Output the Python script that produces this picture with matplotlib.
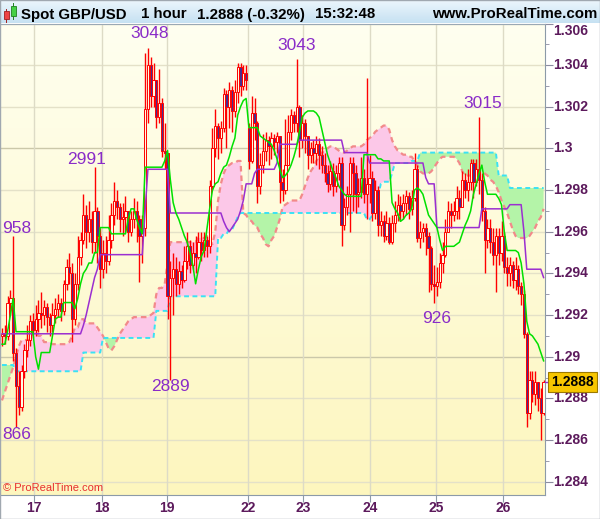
import numpy as np
import matplotlib.pyplot as plt
from matplotlib.patches import Rectangle
import matplotlib.transforms as mtransforms

# hourly GBP/USD bars (open = previous close)
close = [
    1.2911, 1.2910, 1.2926, 1.2928, 1.2902, 1.2886, 1.2876, 1.2893, 1.2903, 1.2908,
    1.2917, 1.2913, 1.2918, 1.2921, 1.2920, 1.2924, 1.2919, 1.2915, 1.2920, 1.2923,
    1.2926, 1.2922, 1.2935, 1.2943, 1.2940, 1.2918, 1.2935, 1.2948, 1.2956, 1.2968,
    1.2960, 1.2966, 1.2955, 1.2970, 1.2958, 1.2942, 1.2950, 1.2946, 1.2956, 1.2968,
    1.2975, 1.2972, 1.2966, 1.2967, 1.2970, 1.2960, 1.2966, 1.2970, 1.2966, 1.2958,
    1.2962, 1.3019, 1.3040, 1.3025, 1.3033, 1.3015, 1.3022, 1.2999, 1.2998, 1.2929,
    1.2938, 1.2942, 1.2935, 1.2941, 1.2937, 1.2946, 1.2953, 1.2944, 1.2950, 1.2948,
    1.2955, 1.2951, 1.2956, 1.2953, 1.2982, 1.3000, 1.3011, 1.3005, 1.3010, 1.3026,
    1.3020, 1.3028, 1.3018, 1.3027, 1.3039, 1.3030, 1.3036, 1.3033, 1.2994, 1.3017,
    1.3012, 1.2982, 1.2992, 1.2999, 1.3004, 1.3001, 1.3005, 1.3003, 1.3006, 1.2984,
    1.2980, 1.2992, 1.3008, 1.3016, 1.3012, 1.3020, 1.3004, 1.3012, 1.3006, 1.2997,
    1.3000, 1.2998, 1.3002, 1.2997, 1.2992, 1.2988, 1.2983, 1.2989, 1.2982, 1.2988,
    1.2993, 1.2963, 1.2972, 1.2978, 1.2993, 1.2988, 1.2978, 1.2979, 1.2986, 1.2978,
    1.2983, 1.2986, 1.2969, 1.2980, 1.2963, 1.2965, 1.2958, 1.2964, 1.2955, 1.2964,
    1.2968, 1.2973, 1.2970, 1.2974, 1.2977, 1.2971, 1.2976, 1.2990, 1.2957, 1.2960,
    1.2962, 1.2958, 1.2952, 1.2935, 1.2934, 1.2936, 1.2945, 1.2949, 1.2960, 1.2970,
    1.2968, 1.2970, 1.2976, 1.2972, 1.2985, 1.2980, 1.2984, 1.2993, 1.2984, 1.2990,
    1.2985, 1.2970, 1.2956, 1.2962, 1.2955, 1.2949, 1.2958, 1.2950, 1.2958, 1.2943,
    1.2940, 1.2944, 1.2937, 1.2942, 1.2934, 1.2930, 1.2911, 1.2873, 1.2889, 1.2882,
    1.2888, 1.2880, 1.2873, 1.2888,
]
high = [
    1.2914, 1.2915, 1.2929, 1.2932, 1.2958, 1.2904, 1.2893, 1.2896, 1.2906, 1.2915,
    1.2920, 1.2921, 1.2925, 1.2927, 1.2931, 1.2927, 1.2926, 1.2921, 1.2926, 1.2928,
    1.2930, 1.2928, 1.2937, 1.2947, 1.2950, 1.2945, 1.2940, 1.2958, 1.2960, 1.2978,
    1.2973, 1.2975, 1.2970, 1.2991, 1.2972, 1.2962, 1.2956, 1.2958, 1.2968, 1.2974,
    1.2984, 1.2980, 1.2974, 1.2974, 1.2977, 1.2968, 1.2970, 1.2976, 1.2975, 1.2968,
    1.2968, 1.3046, 1.3048, 1.3044, 1.3041, 1.3033, 1.3038, 1.3024, 1.3012, 1.2998,
    1.2946, 1.2950, 1.2948, 1.2946, 1.2944, 1.2953, 1.2960, 1.2956, 1.2955, 1.2958,
    1.2960, 1.2960, 1.2960, 1.2958, 1.2985, 1.3010, 1.3019, 1.3012, 1.3013, 1.3029,
    1.3028, 1.3032, 1.3030, 1.3033, 1.3041, 1.3041, 1.3040, 1.3040, 1.3012, 1.3025,
    1.3024, 1.3013, 1.2998, 1.3007, 1.3008, 1.3006, 1.3008, 1.3007, 1.3008, 1.3004,
    1.2990, 1.3014, 1.3016, 1.3019, 1.3018, 1.3043, 1.3021, 1.3016, 1.3014, 1.3005,
    1.3003, 1.3004, 1.3006, 1.3005, 1.3001, 1.2998, 1.2992, 1.2994, 1.2993, 1.2992,
    1.2996, 1.2996, 1.2976, 1.2982, 1.2996, 1.2996, 1.2992, 1.2986, 1.2996, 1.2990,
    1.3034, 1.2997, 1.2989, 1.2985, 1.2982, 1.2970, 1.2968, 1.2970, 1.2967, 1.2968,
    1.2975, 1.2978, 1.2977, 1.2978, 1.2980, 1.2979, 1.2980, 1.2998, 1.2992, 1.2965,
    1.2964, 1.2964, 1.2960, 1.2953, 1.2944, 1.2943, 1.2950, 1.2955, 1.2966, 1.2975,
    1.2974, 1.2975, 1.2982, 1.2980, 1.2989, 1.2988, 1.2990, 1.2995, 1.2995, 1.2995,
    1.3015, 1.2988, 1.2972, 1.2966, 1.2966, 1.2962, 1.2962, 1.2962, 1.2965, 1.2960,
    1.2948, 1.2948, 1.2946, 1.2948, 1.2944, 1.2936, 1.2932, 1.2912, 1.2893, 1.2893,
    1.2893, 1.2886, 1.2885, 1.2889,
]
low = [
    1.2905, 1.2906, 1.2908, 1.2920, 1.2898, 1.2866, 1.2872, 1.2874, 1.2890, 1.2900,
    1.2905, 1.2909, 1.2910, 1.2912, 1.2914, 1.2915, 1.2912, 1.2910, 1.2912, 1.2916,
    1.2919, 1.2917, 1.2920, 1.2932, 1.2935, 1.2907, 1.2915, 1.2932, 1.2944, 1.2954,
    1.2952, 1.2955, 1.2950, 1.2950, 1.2945, 1.2933, 1.2938, 1.2940, 1.2944, 1.2952,
    1.2963, 1.2966, 1.2960, 1.2958, 1.2960, 1.2955, 1.2958, 1.2962, 1.2955, 1.2936,
    1.2945, 1.2958, 1.3012, 1.3020, 1.3020, 1.3010, 1.3012, 1.2996, 1.2990, 1.2918,
    1.2889, 1.2920, 1.2929, 1.2930, 1.2933, 1.2936, 1.2942, 1.2940, 1.2942, 1.2940,
    1.2947, 1.2946, 1.2948, 1.2948, 1.2950, 1.2980, 1.2996, 1.2995, 1.2998, 1.3008,
    1.3000, 1.3010, 1.3008, 1.3015, 1.3022, 1.3025, 1.3028, 1.3028, 1.2990, 1.2993,
    1.3004, 1.2974, 1.2978, 1.2988, 1.2994, 1.2992, 1.2995, 1.2997, 1.2998, 1.2974,
    1.2975, 1.2978, 1.2996, 1.3004, 1.3008, 1.3008, 1.2996, 1.3000, 1.2998, 1.2990,
    1.2993, 1.2993, 1.2992, 1.2990, 1.2988, 1.2984, 1.2979, 1.2980, 1.2977, 1.2979,
    1.2985, 1.2953, 1.2961, 1.2968, 1.2960, 1.2970, 1.2969, 1.2972, 1.2976, 1.2974,
    1.2966, 1.2974, 1.2965, 1.2966, 1.2958, 1.2958, 1.2955, 1.2956, 1.2954, 1.2954,
    1.2960, 1.2965, 1.2965, 1.2966, 1.2968, 1.2966, 1.2968, 1.2975, 1.2955, 1.2952,
    1.2955, 1.2949, 1.2931, 1.2932, 1.2926, 1.2929, 1.2933, 1.2940, 1.2948, 1.2960,
    1.2962, 1.2965, 1.2966, 1.2966, 1.2972, 1.2976, 1.2975, 1.2980, 1.2976, 1.2982,
    1.2978, 1.2965, 1.2940, 1.2952, 1.2950, 1.2944, 1.2931, 1.2944, 1.2946, 1.2940,
    1.2934, 1.2934, 1.2933, 1.2932, 1.2930, 1.2925, 1.2909, 1.2866, 1.2870, 1.2878,
    1.2877, 1.2874, 1.2860, 1.2872,
]
first_open = 1.2910
gap_opens = {88: 1.3010}  # monday open after the weekend

# ichimoku lines as drawn on the chart
tenkan = [
    1.2906, 1.2906, 1.2912, 1.2920, 1.2928, 1.2912, 1.2912, 1.2912, 1.2912, 1.2912,
    1.2912, 1.2912, 1.2900, 1.2894, 1.2902, 1.2902, 1.2902, 1.2902, 1.2910, 1.2918,
    1.2919, 1.2919, 1.2926, 1.2926, 1.2926, 1.2926, 1.2923, 1.2928, 1.2935, 1.2940,
    1.2942, 1.2945, 1.2945, 1.2950, 1.2950, 1.2962, 1.2962, 1.2962, 1.2962, 1.2959,
    1.2959, 1.2959, 1.2959, 1.2959, 1.2959, 1.2966, 1.2971, 1.2971, 1.2966, 1.2962,
    1.2959, 1.2991, 1.2991, 1.2991, 1.2991, 1.2991, 1.2991, 1.2991, 1.2994, 1.2999,
    1.2985, 1.2974, 1.2969, 1.2966, 1.2962, 1.2958, 1.2955, 1.2950, 1.2944, 1.2935,
    1.2942, 1.2948, 1.2951, 1.2961, 1.2971, 1.2980, 1.2983, 1.2984, 1.2988, 1.2991,
    1.2992, 1.2996, 1.3001, 1.3005, 1.3016, 1.3020, 1.3023, 1.3024, 1.3010, 1.3010,
    1.3010, 1.3010, 1.3006, 1.3005, 1.3004, 1.3003, 1.3002, 1.2999, 1.2995, 1.2990,
    1.2986, 1.2987, 1.2989, 1.2992, 1.2996, 1.3001, 1.3008, 1.3015, 1.3017, 1.3018,
    1.3018, 1.3018, 1.3017, 1.3015, 1.3009, 1.3003, 1.2997, 1.2993, 1.2989, 1.2986,
    1.2982, 1.2980, 1.2978, 1.2977, 1.2977, 1.2977, 1.2977, 1.2977, 1.2977, 1.2997,
    1.2997, 1.2997, 1.2997, 1.2997, 1.2995, 1.2995, 1.2994, 1.2994, 1.2994, 1.2974,
    1.2971, 1.2969, 1.2965, 1.2966, 1.2968, 1.2969, 1.2971, 1.2980, 1.2981, 1.2980,
    1.2978, 1.2973, 1.2968, 1.2966, 1.2964, 1.2962, 1.2956, 1.2951, 1.2953, 1.2953,
    1.2953, 1.2953, 1.2954, 1.2955, 1.2959, 1.2963, 1.2966, 1.2970, 1.2978, 1.2983,
    1.2988, 1.2992, 1.2984, 1.2978, 1.2978, 1.2978, 1.2978, 1.2976, 1.2973, 1.2960,
    1.2951, 1.2951, 1.2951, 1.2951, 1.2950, 1.2945, 1.2935, 1.2917, 1.2911, 1.2910,
    1.2908, 1.2906, 1.2902, 1.2898,
]
span_a = [
    1.2879, 1.2883, 1.2887, 1.2891, 1.2895, 1.2900, 1.2905, 1.2908, 1.2908, 1.2908,
    1.2908, 1.2912, 1.2912, 1.2910, 1.2910, 1.2907, 1.2907, 1.2907, 1.2906, 1.2906,
    1.2906, 1.2906, 1.2906, 1.2906, 1.2907, 1.2910, 1.2914, 1.2914, 1.2918, 1.2918,
    1.2916, 1.2916, 1.2916, 1.2916, 1.2914, 1.2912, 1.2910, 1.2907, 1.2904, 1.2903,
    1.2905, 1.2908, 1.2911, 1.2913, 1.2915, 1.2917, 1.2918, 1.2919, 1.2919, 1.2919,
    1.2919, 1.2919, 1.2919, 1.2920, 1.2921, 1.2930, 1.2933, 1.2933, 1.2935, 1.2945,
    1.2955, 1.2955, 1.2955, 1.2955, 1.2955, 1.2955, 1.2955, 1.2955, 1.2955, 1.2955,
    1.2957, 1.2957, 1.2957, 1.2958, 1.2956, 1.2954, 1.2960, 1.2975, 1.2983, 1.2988,
    1.2991, 1.2992, 1.2993, 1.2993, 1.2994, 1.2994, 1.2969, 1.2968, 1.2966, 1.2965,
    1.2963, 1.2962, 1.2959, 1.2957, 1.2954, 1.2953, 1.2956, 1.2958, 1.2962, 1.2966,
    1.2972, 1.2973, 1.2974, 1.2975, 1.2975, 1.2975, 1.2975, 1.2978, 1.2982, 1.2986,
    1.2989, 1.2991, 1.2994, 1.2996, 1.2998, 1.2999, 1.3000, 1.3001, 1.3001, 1.3000,
    1.2999, 1.2998, 1.2998, 1.2999, 1.3000, 1.3001, 1.3001, 1.3001, 1.3001, 1.3002,
    1.3004, 1.3005, 1.3006, 1.3008, 1.3009, 1.3010, 1.3011, 1.3011, 1.3009, 1.3004,
    1.3001, 1.2999, 1.2998, 1.2997, 1.2997, 1.2996, 1.2996, 1.2994, 1.2992, 1.2989,
    1.2988, 1.2988, 1.2988, 1.2989, 1.2991, 1.2993, 1.2995, 1.2996, 1.2996, 1.2996,
    1.2996, 1.2996, 1.2995, 1.2993, 1.2989, 1.2987, 1.2987, 1.2987, 1.2987, 1.2987,
    1.2988, 1.2989, 1.2988, 1.2987, 1.2985, 1.2984, 1.2982, 1.2979, 1.2975, 1.2972,
    1.2969, 1.2965, 1.2961, 1.2958, 1.2957, 1.2957, 1.2957, 1.2957, 1.2958, 1.2960,
    1.2962, 1.2965, 1.2967, 1.2971,
]
# (value, number of bars)
kijun_runs = [
    (1.2911, 29), (1.2915, 1), (1.2920, 1), (1.2926, 1), (1.2932, 1), (1.2938, 1),
    (1.2942, 1), (1.2949, 16), (1.2970, 1), (1.2990, 8), (1.2969, 19), (1.2965, 1),
    (1.2962, 1), (1.2960, 1), (1.2962, 1), (1.2964, 1), (1.2966, 1), (1.2970, 1),
    (1.2975, 1), (1.2983, 3), (1.2988, 1), (1.2990, 7), (1.2993, 1), (1.3002, 7),
    (1.3004, 16), (1.2998, 9), (1.2993, 20), (1.2986, 1), (1.2983, 3), (1.2962, 16),
    (1.2971, 10), (1.2973, 5), (1.2960, 1), (1.2942, 6), (1.2938, 1),
]
span_b_runs = [
    (1.2896, 5), (1.2893, 24), (1.2902, 7), (1.2909, 19), (1.2922, 5), (1.2929, 17),
    (1.2957, 2), (1.2959, 2), (1.2961, 2), (1.2964, 1), (1.2967, 1), (1.2969, 45),
    (1.2966, 2), (1.2968, 1), (1.2972, 1), (1.2977, 1), (1.2983, 1), (1.2984, 3),
    (1.2988, 1), (1.2993, 6), (1.2994, 3), (1.2998, 28), (1.2987, 4), (1.2981, 13),
]

day_ticks = [11.42, 35.54, 58.92, 87.79, 107.39, 131.16, 154.68, 178.67]
day_labels = ['17', '18', '19', '22', '23', '24', '25', '26']
price_ticks = np.round(np.arange(1.284, 1.3061, 0.002), 3)
minor_ticks = np.round(np.arange(1.285, 1.3061, 0.002), 3)

# swing high/low labels: bar, text, high?, dx, dy (pixels)
markers = [
    (52, '3048', True, 2, 15), (33, '2991', True, -8, 8), (4, '958', True, 3, 7),
    (105, '3043', True, 0, 13), (170, '3015', True, 4, 14),
    (5, '866', False, 1, 7), (60, '2889', False, 0, 7), (154, '926', False, 2, 16),
]
last_price = 1.2888


def expand(runs):
    out = []
    for v, k in runs:
        out.extend([v] * k)
    return np.array(out)


kijun = expand(kijun_runs)
span_b = expand(span_b_runs)
tenkan = np.array(tenkan)
span_a = np.array(span_a)
n = len(close)
assert len(high) == n and len(low) == n and len(tenkan) == n and len(span_a) == n, \
    (n, len(high), len(low), len(tenkan), len(span_a))
assert len(kijun) == n and len(span_b) == n, (len(kijun), len(span_b))

x = np.arange(n)
c = np.array(close)
o = np.r_[first_open, c[:-1]]
for k, v in gap_opens.items():
    o[k] = v
h = np.maximum(np.array(high), np.maximum(o, c))
l = np.minimum(np.array(low), np.minimum(o, c))

W, H = 600, 519
top, bot, right = 23.5, 495, 545
xlo, xhi = -0.7, 193.5
ylo, yhi = 1.283358, 1.305990

fig = plt.figure(figsize=(W / 100, H / 100), dpi=100, facecolor='white')
ax = fig.add_axes([0, 1 - bot / H, right / W, (bot - top) / H])

# cream -> yellow background
g = np.linspace(0, 1, 256)[:, None, None]
c_top = np.array([255, 255, 240]) / 255
c_bot = np.array([253, 246, 190]) / 255
ax.imshow(c_top + (c_bot - c_top) * g, extent=[xlo, xhi, ylo, yhi],
          aspect='auto', origin='upper', zorder=0)

for p in price_ticks:
    strong = abs(p * 100 - round(p * 100)) < 1e-6
    ax.axhline(p, color='#cbc8aa' if strong else '#e4e1c8', lw=1, zorder=0.5)
for t in day_ticks:
    ax.axvline(t, color='#dddbc6', lw=1, zorder=0.5)

# cloud
ax.fill_between(x, span_a, span_b, where=span_a >= span_b, interpolate=True,
                facecolor='#fcc8e8', lw=0, zorder=1)
ax.fill_between(x, span_a, span_b, where=span_a < span_b, interpolate=True,
                facecolor='#b4f4a8', lw=0, zorder=1)
ax.plot(x, span_a, color='#f28a8a', lw=1.6, ls=(0, (2.5, 1.8)), zorder=1.5)
ax.plot(x, span_b, color='#3ae2f4', lw=1.4, ls=(0, (2.5, 1.8)), zorder=1.5)

# candles
ax.vlines(x, l, h, colors='#ff0000', linewidth=1.0, zorder=3)
up = c >= o
ax.bar(x[up], (c - o)[up], bottom=o[up], width=0.8, color='#fffbe2',
       edgecolor='#ff0000', linewidth=0.7, zorder=3.5)
ax.bar(x[~up], (c - o)[~up], bottom=o[~up], width=0.8, color='#4a2c8c',
       edgecolor='#ff0000', linewidth=0.7, zorder=3.5)

ax.plot(x, kijun, color='#9b2fd0', lw=1.1, zorder=4)
ax.plot(x, tenkan, color='#00e000', lw=1.1, zorder=4)

for bar, txt, is_high, dx, dy in markers:
    yv = h[bar] if is_high else l[bar]
    ax.annotate(txt, (bar, yv), xytext=(dx, dy if is_high else -dy),
                textcoords='offset pixels', ha='center', va='center',
                color='#8a2cc8', fontsize=12.5, family='Liberation Sans', zorder=6)

ax.set_xlim(xlo, xhi)
ax.set_ylim(ylo, yhi)

ax.spines['left'].set_visible(False)
ax.spines['top'].set_color('#9aa8b4')
ax.spines['right'].set_color('#8c9aa8')
ax.spines['bottom'].set_color('#8c9aa8')
ax.yaxis.tick_right()
ax.set_yticks(price_ticks)
ax.set_yticks(minor_ticks, minor=True)
ax.tick_params(axis='y', which='major', length=6, color='#8c8ca0',
               labelright=False, labelleft=False)
ax.tick_params(axis='y', which='minor', length=3, color='#8c8ca0')
ax.set_xticks(day_ticks)
ax.tick_params(axis='x', length=5, color='#8c9aa8', labelbottom=False)

lab_kw = dict(family='Liberation Sans', weight='bold', fontsize=10, color='#5c1a5c')
tr_y = mtransforms.blended_transform_factory(ax.transAxes, ax.transData)
for p in price_ticks:
    lab = f'{p:.3f}'.rstrip('0')
    if p > yhi:
        ax.text(1.0147, yhi, lab, transform=tr_y, ha='left', va='top',
                clip_on=False, zorder=5, **lab_kw)
    else:
        ax.text(1.0147, p, lab, transform=tr_y, ha='left', va='center',
                clip_on=False, zorder=5, **lab_kw)
tr_x = mtransforms.blended_transform_factory(ax.transData, ax.transAxes)
for t, lab in zip(day_ticks, day_labels):
    ax.text(t, -0.0276, lab, transform=tr_x, ha='center', va='center',
            clip_on=False, **lab_kw)

# last price tag
ax.plot([1.0, 1.009], [last_price, last_price], transform=tr_y, color='#9b2fd0',
        lw=1, clip_on=False, zorder=9)
ax.text(1.011, last_price, f'{last_price:.4f}', transform=tr_y, ha='left', va='center',
        fontsize=10, weight='bold', family='Liberation Sans', color='black',
        bbox=dict(boxstyle='square,pad=0.22', fc='#f7c600', ec='#9c7a00', lw=0.8),
        clip_on=False, zorder=10)

# title bar
tax = fig.add_axes([0, 1 - top / H, 1, top / H])
tax.set_xlim(0, W)
tax.set_ylim(top, 0)
tax.axis('off')
gt = np.linspace(0, 1, 64)[:, None, None]
b_top = np.array([238, 247, 253]) / 255
b_bot = np.array([198, 225, 242]) / 255
tax.imshow(b_top + (b_bot - b_top) * gt, extent=[0, W, top, 0], aspect='auto', zorder=0)
tax.add_patch(Rectangle((3.5, 11), 5, 8, fc='#ee4444', ec='#a02020', lw=0.6, zorder=2))
tax.plot([6, 6], [8.5, 21.5], color='#a02020', lw=0.7, zorder=1)
tax.add_patch(Rectangle((10.5, 5.5), 5.5, 10.5, fc='#44d044', ec='#208020', lw=0.6, zorder=2))
tax.plot([13.2, 13.2], [2.5, 19], color='#208020', lw=0.7, zorder=1)
tkw = dict(family='Liberation Sans', weight='bold', fontsize=10.8, va='baseline', color='black')
tax.text(21, 18.5, 'Spot GBP/USD', **tkw)
tax.text(141, 18.5, '1 hour', **tkw)
tax.text(197, 18.5, '1.2888 (-0.32%)', **tkw)
tax.text(315, 18.5, '15:32:48', **tkw)
tax.text(597, 18.5, 'www.ProRealTime.com', ha='right', **tkw)

fig.text(3 / W, 1 - 488 / H, '\u00a9 ProRealTime.com', color='#e83030', fontsize=8,
         family='Liberation Sans', va='center')
fig.patches.append(Rectangle((0, 0), 1, 1, transform=fig.transFigure, fill=False,
                             ec='#a0a8b0', lw=1))

fig.savefig('out.png', dpi=100)
